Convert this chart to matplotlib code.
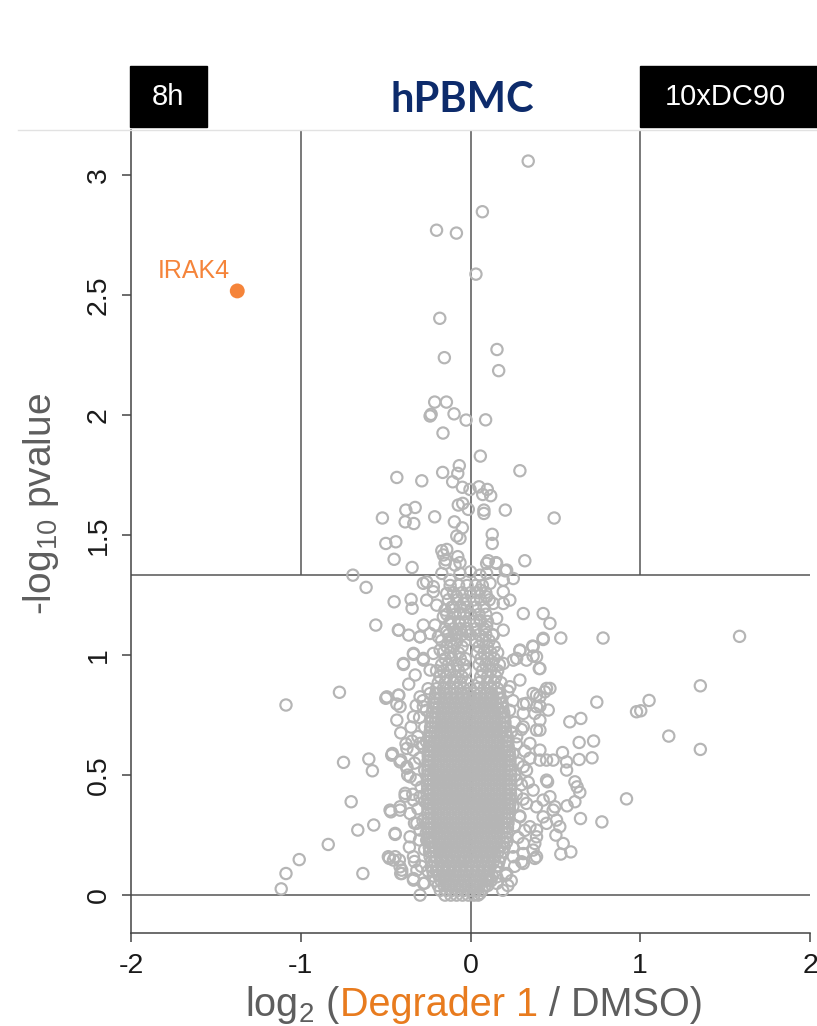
import matplotlib
matplotlib.use("Agg")
import matplotlib.pyplot as plt
from matplotlib.patches import Rectangle
from matplotlib.lines import Line2D

plt.rcParams['font.family'] = ['Liberation Sans', 'DejaVu Sans']
plt.rcParams['mathtext.fontset'] = 'custom'
plt.rcParams['mathtext.rm'] = 'Liberation Sans'
plt.rcParams['mathtext.it'] = 'Liberation Sans:italic'

GREY_PT = "#b5b5b5"
ORANGE = "#f5843a"
LABEL_GREY = "#5e5e5e"
LINE = "#555555"

# highlighted protein
hit_name = "IRAK4"
hit_x = -1.374
hit_y = 2.517

# points above the significance line
upper_x = [0.34, 0.07, -0.20, -0.083, 0.032, -0.181, 0.156, -0.154, 0.166, -0.211, -0.142, -0.238,
           -0.232, -0.097, -0.026, 0.089, -0.162, 0.058, -0.066, 0.291, -0.434, -0.287, -0.164, -0.075,
           -0.105, -0.048, -0.003, 0.05, 0.099, 0.072, 0.119, 0.205, 0.493, -0.519, -0.381, -0.326,
           -0.385, -0.334, -0.211, -0.095, -0.048, -0.072, -0.046, -0.013, 0.079, 0.079, 0.128, 0.128,
           -0.081, -0.062, -0.499, -0.44, -0.45, -0.344, -0.169, -0.14, -0.16, -0.075, -0.062, -0.146,
           0.105, 0.15, 0.32, 0.205, -0.693, 0.0]
upper_y = [3.058, 2.847, 2.77, 2.758, 2.587, 2.403, 2.273, 2.239, 2.185, 2.054, 2.054, 1.996,
           2.003, 2.005, 1.979, 1.98, 1.925, 1.829, 1.789, 1.768, 1.74, 1.726, 1.761, 1.757,
           1.722, 1.699, 1.69, 1.701, 1.69, 1.669, 1.664, 1.604, 1.571, 1.571, 1.604, 1.615,
           1.555, 1.548, 1.576, 1.555, 1.530, 1.625, 1.632, 1.607, 1.604, 1.59, 1.503, 1.465,
           1.496, 1.486, 1.465, 1.472, 1.399, 1.365, 1.435, 1.44, 1.417, 1.41, 1.385, 1.397,
           1.393, 1.385, 1.393, 1.351, 1.333, 1.347]

# points around the top of the cloud
mid_x = [-0.258, -0.219, -0.278, -0.169, -0.121, -0.062, -0.091, -0.15, 0.056, 0.095, 0.115, 0.193,
         0.252, 0.213, 0.154, 0.095, 0.056, 0.095, 0.134, 0.193, 0.232, 0.193, -0.14, -0.081,
         -0.042, -0.101, -0.15, -0.062, -0.219, -0.258, -0.199, 0.056, 0.095, 0.154, 0.193, 0.134,
         -0.16, -0.121, -0.062, -0.081, -0.14, -0.022, -0.425, -0.297, -0.189, -0.209, 0.428, 0.369,
         0.291, 0.252, 0.193, 0.33, 0.389, -0.336, -0.395, -0.278, -0.219, -0.179, -0.238, 0.409,
         0.291, 0.232, 0.369, 0.448, 0.409, 0.33, -0.493, -0.425, -0.415, -0.336, -0.278, -0.297,
         -0.238, 0.311, 0.389, 0.409, 0.389, 0.311]
mid_y = [1.305, 1.285, 1.299, 1.340, 1.3125, 1.340, 1.375, 1.382, 1.333, 1.340, 1.299, 1.3125,
         1.319, 1.354, 1.382, 1.382, 1.271, 1.243, 1.215, 1.264, 1.229, 1.215, 1.257, 1.243,
         1.215, 1.201, 1.1875, 1.174, 1.264, 1.229, 1.208, 1.146, 1.118, 1.153, 1.104, 1.083,
         1.16, 1.132, 1.132, 1.09, 1.097, 1.097, 1.104, 1.076, 1.076, 1.125, 1.07, 1.035,
         1.021, 0.979, 0.965, 0.979, 0.993, 1.007, 0.965, 0.979, 1.007, 1.021, 0.9375, 0.944,
         0.896, 0.868, 0.84, 0.861, 0.826, 0.799, 0.826, 0.833, 0.785, 0.743, 0.785, 0.826,
         0.84, 0.757, 0.785, 0.729, 0.6875, 0.701]

# scattered points on the left of the cloud
left_x = [-0.615, -0.45, -0.35, -0.344, -0.558, -0.422, -0.364, -0.278, -0.297, -0.238, -0.395, -0.336,
          -0.278, -0.326, -0.364, -0.772, -1.087, -0.499, -0.422, -0.434, -0.434, -0.411, -0.375, -0.344,
          -0.46, -0.411, -0.375, -0.748, -0.599, -0.578, -0.703, -0.469, -0.415, -0.385, -0.57, -0.664,
          -0.444, -0.838, -1.009, -1.087, -1.115, -0.634, -0.478, -0.444, -0.419, -0.405, -0.411, -0.336,
          -0.297, -0.464, -0.415, -0.375, -0.336, -0.297, -0.356, -0.385, -0.336, -0.297, -0.474, -0.415,
          -0.356, -0.316, -0.444, -0.356, -0.297, -0.258, -0.484, -0.454, -0.415, -0.405, -0.336, -0.316,
          -0.336, -0.278]
left_y = [1.282, 1.222, 1.232, 1.195, 1.125, 1.104, 1.083, 1.125, 1.076, 1.09, 0.961, 1.003,
          0.986, 0.917, 0.879, 0.845, 0.792, 0.82, 0.833, 0.796, 0.729, 0.676, 0.611, 0.642,
          0.59, 0.5625, 0.529, 0.553, 0.567, 0.518, 0.389, 0.347, 0.368, 0.4125, 0.292, 0.271,
          0.253, 0.211, 0.148, 0.09, 0.026, 0.09, 0.153, 0.16, 0.146, 0.104, 0.09, 0.069,
          0.0, 0.583, 0.555, 0.535, 0.604, 0.632, 0.493, 0.424, 0.396, 0.41, 0.354, 0.354,
          0.34, 0.299, 0.257, 0.243, 0.271, 0.229, 0.16, 0.146, 0.118, 0.09, 0.16, 0.104,
          0.0625, 0.049]

# scattered points on the right of the cloud
right_x = [0.311, 0.428, 0.468, 0.532, 0.781, 1.585, 0.428, 0.366, 0.369, 0.291, 0.272, 0.405,
           1.354, 0.468, 0.438, 0.389, 0.744, 1.052, 0.978, 1.003, 0.311, 0.379, 0.458, 0.409,
           0.585, 0.65, 0.409, 0.64, 0.725, 1.168, 1.354, 0.542, 0.64, 0.716, 0.566, 0.566,
           0.487, 0.409, 0.454, 0.615, 0.628, 0.644, 0.615, 0.569, 0.919, 0.648, 0.774, 0.497,
           0.507, 0.526, 0.503, 0.546, 0.532, 0.591, 0.428, 0.428, 0.389, 0.379, 0.379, 0.301,
           0.311, 0.209, 0.115, 0.154, 0.272, 0.35, 0.409, 0.448, 0.311, 0.272, 0.369, 0.448,
           0.33, 0.389, 0.468, 0.291, 0.35, 0.448, 0.487, 0.389, 0.311, 0.369, 0.252, 0.311,
           0.389, 0.213, 0.154, 0.056]
right_y = [1.173, 1.173, 1.132, 1.071, 1.071, 1.078, 1.065, 1.0375, 0.996, 1.018, 0.986, 0.944,
           0.872, 0.861, 0.847, 0.833, 0.804, 0.811, 0.764, 0.768, 0.796, 0.757, 0.771, 0.7875,
           0.722, 0.736, 0.6875, 0.636, 0.642, 0.6625, 0.607, 0.594, 0.565, 0.572, 0.555, 0.521,
           0.5625, 0.5625, 0.472, 0.472, 0.451, 0.428, 0.389, 0.372, 0.401, 0.319, 0.305, 0.368,
           0.3125, 0.285, 0.25, 0.215, 0.171, 0.18, 0.396, 0.326, 0.271, 0.215, 0.153, 0.139,
           0.173, 0.083, 0.069, 0.076, 0.66, 0.632, 0.604, 0.5625, 0.535, 0.479, 0.4375, 0.479,
           0.382, 0.368, 0.41, 0.326, 0.285, 0.299, 0.354, 0.243, 0.215, 0.1875, 0.16, 0.132,
           0.16, 0.09, 0.049, 0.007]

# rings hugging the edges of the dense core
halo_x = [-0.27, -0.29, -0.27, -0.3, -0.28, -0.31, -0.27, -0.29, -0.32, -0.27, -0.3, -0.28,
          -0.31, -0.27, -0.3, -0.26, -0.28, -0.25, -0.33, -0.34, -0.33, -0.35, -0.32, -0.26,
          -0.25, -0.33, -0.36, -0.37, -0.38, -0.26,
          0.24, 0.26, 0.25, 0.28, 0.26, 0.29, 0.25, 0.27, 0.3, 0.26, 0.28, 0.25,
          0.27, 0.24, 0.26, 0.23, 0.25, 0.22, 0.32, 0.31, 0.33, 0.32, 0.3, 0.22,
          0.19, 0.34, 0.35]
halo_y = [0.05, 0.12, 0.19, 0.23, 0.31, 0.36, 0.39, 0.45, 0.48, 0.52, 0.57, 0.62,
          0.66, 0.7, 0.74, 0.77, 0.81, 0.86, 0.3, 0.42, 0.55, 0.7, 0.79, 0.26,
          0.1, 0.14, 0.2, 0.5, 0.63, 0.64,
          0.06, 0.12, 0.2, 0.24, 0.29, 0.33, 0.37, 0.42, 0.46, 0.5, 0.55, 0.59,
          0.63, 0.68, 0.72, 0.77, 0.81, 0.85, 0.27, 0.4, 0.52, 0.6, 0.69, 0.04,
          0.02, 0.47, 0.57]

# dense core of the cloud, one row of x values per level
core_levels = [0.00, 0.02, 0.04, 0.06, 0.08, 0.10, 0.12, 0.14, 0.16, 0.18, 0.20, 0.22, 0.24, 0.26,
               0.28, 0.30, 0.32, 0.34, 0.36, 0.38, 0.40, 0.42, 0.44, 0.46, 0.48, 0.50, 0.52, 0.54,
               0.56, 0.58, 0.60, 0.62, 0.64, 0.66, 0.68, 0.70, 0.72, 0.74, 0.76, 0.78, 0.80, 0.82, 0.84]
core_rows = [
    [-0.15, -0.116, -0.082, -0.047, -0.013, 0.02, 0.045],
    [-0.178, -0.141, -0.108, -0.072, -0.036, -0.002, 0.033, 0.068],
    [-0.19, -0.157, -0.121, -0.088, -0.052, -0.018, 0.017, 0.052, 0.086, 0.101],
    [-0.208, -0.174, -0.139, -0.103, -0.069, -0.034, 0.0, 0.035, 0.07, 0.104, 0.121],
    [-0.219, -0.186, -0.15, -0.117, -0.082, -0.046, -0.012, 0.023, 0.058, 0.092, 0.128],
    [-0.222, -0.203, -0.168, -0.133, -0.099, -0.064, -0.028, 0.006, 0.041, 0.075, 0.11, 0.146],
    [-0.231, -0.196, -0.161, -0.127, -0.091, -0.056, -0.022, 0.013, 0.048, 0.083, 0.118, 0.153, 0.162],
    [-0.229, -0.213, -0.178, -0.143, -0.109, -0.073, -0.039, -0.004, 0.031, 0.066, 0.1, 0.135, 0.168],
    [-0.238, -0.203, -0.169, -0.134, -0.099, -0.064, -0.03, 0.005, 0.04, 0.075, 0.11, 0.145, 0.178],
    [-0.241, -0.221, -0.186, -0.151, -0.117, -0.082, -0.047, -0.012, 0.022, 0.057, 0.092, 0.127, 0.162, 0.189],
    [-0.243, -0.208, -0.173, -0.138, -0.104, -0.069, -0.034, 0.001, 0.036, 0.071, 0.105, 0.14, 0.175, 0.199],
    [-0.247, -0.226, -0.19, -0.156, -0.121, -0.086, -0.051, -0.016, 0.019, 0.054, 0.088, 0.123, 0.158, 0.193, 0.212],
    [-0.249, -0.213, -0.178, -0.143, -0.108, -0.073, -0.038, -0.003, 0.032, 0.067, 0.101, 0.136, 0.171, 0.206],
    [-0.248, -0.231, -0.196, -0.161, -0.126, -0.091, -0.056, -0.021, 0.014, 0.049, 0.084, 0.119, 0.153, 0.188, 0.214],
    [-0.251, -0.216, -0.181, -0.146, -0.111, -0.076, -0.041, -0.006, 0.029, 0.063, 0.098, 0.133, 0.168, 0.203, 0.218],
    [-0.252, -0.234, -0.199, -0.164, -0.129, -0.094, -0.059, -0.024, 0.011, 0.046, 0.081, 0.116, 0.151, 0.186, 0.221],
    [-0.25, -0.217, -0.182, -0.147, -0.112, -0.077, -0.042, -0.007, 0.028, 0.063, 0.098, 0.133, 0.168, 0.203, 0.225],
    [-0.253, -0.235, -0.2, -0.165, -0.13, -0.095, -0.06, -0.025, 0.01, 0.045, 0.08, 0.115, 0.15, 0.185, 0.22, 0.228],
    [-0.251, -0.218, -0.183, -0.148, -0.113, -0.078, -0.043, -0.008, 0.027, 0.062, 0.097, 0.132, 0.167, 0.202, 0.229],
    [-0.254, -0.236, -0.201, -0.166, -0.131, -0.096, -0.061, -0.026, 0.009, 0.044, 0.079, 0.114, 0.149, 0.184, 0.219, 0.232],
    [-0.252, -0.219, -0.184, -0.149, -0.114, -0.079, -0.044, -0.009, 0.026, 0.061, 0.096, 0.131, 0.166, 0.201, 0.234],
    [-0.255, -0.237, -0.202, -0.167, -0.132, -0.097, -0.062, -0.027, 0.008, 0.043, 0.078, 0.113, 0.148, 0.183, 0.218, 0.236],
    [-0.253, -0.22, -0.185, -0.15, -0.115, -0.08, -0.045, -0.01, 0.025, 0.06, 0.095, 0.13, 0.165, 0.2, 0.235],
    [-0.254, -0.238, -0.203, -0.168, -0.133, -0.098, -0.063, -0.028, 0.007, 0.042, 0.077, 0.112, 0.147, 0.182, 0.217, 0.237],
    [-0.252, -0.221, -0.186, -0.151, -0.116, -0.081, -0.046, -0.011, 0.024, 0.059, 0.094, 0.129, 0.164, 0.199, 0.234],
    [-0.253, -0.237, -0.202, -0.167, -0.132, -0.097, -0.062, -0.027, 0.008, 0.043, 0.078, 0.113, 0.148, 0.183, 0.218, 0.238],
    [-0.251, -0.219, -0.184, -0.149, -0.114, -0.079, -0.044, -0.009, 0.026, 0.061, 0.096, 0.131, 0.166, 0.201, 0.236],
    [-0.252, -0.236, -0.201, -0.166, -0.131, -0.096, -0.061, -0.026, 0.009, 0.044, 0.079, 0.114, 0.149, 0.184, 0.219, 0.235],
    [-0.25, -0.218, -0.183, -0.148, -0.113, -0.078, -0.043, -0.008, 0.027, 0.062, 0.097, 0.132, 0.167, 0.202, 0.233],
    [-0.249, -0.235, -0.2, -0.165, -0.13, -0.095, -0.06, -0.025, 0.01, 0.045, 0.08, 0.115, 0.15, 0.185, 0.22, 0.231],
    [-0.247, -0.216, -0.181, -0.146, -0.111, -0.076, -0.041, -0.006, 0.029, 0.064, 0.099, 0.134, 0.169, 0.204, 0.228],
    [-0.244, -0.233, -0.198, -0.163, -0.128, -0.093, -0.058, -0.023, 0.012, 0.047, 0.082, 0.117, 0.152, 0.187, 0.222],
    [-0.242, -0.214, -0.179, -0.144, -0.109, -0.074, -0.039, -0.004, 0.031, 0.066, 0.101, 0.136, 0.171, 0.206, 0.221],
    [-0.24, -0.231, -0.196, -0.161, -0.126, -0.091, -0.056, -0.021, 0.014, 0.049, 0.084, 0.119, 0.154, 0.189, 0.217],
    [-0.238, -0.212, -0.177, -0.142, -0.107, -0.072, -0.037, -0.002, 0.033, 0.068, 0.103, 0.138, 0.173, 0.208],
    [-0.235, -0.228, -0.193, -0.158, -0.123, -0.088, -0.053, -0.018, 0.017, 0.052, 0.087, 0.122, 0.157, 0.192, 0.206],
    [-0.232, -0.209, -0.174, -0.139, -0.104, -0.069, -0.034, 0.001, 0.036, 0.071, 0.106, 0.141, 0.176, 0.203],
    [-0.229, -0.192, -0.157, -0.122, -0.087, -0.052, -0.017, 0.018, 0.053, 0.088, 0.123, 0.158, 0.193, 0.2],
    [-0.226, -0.205, -0.17, -0.135, -0.1, -0.065, -0.03, 0.005, 0.04, 0.075, 0.11, 0.145, 0.18, 0.196],
    [-0.221, -0.188, -0.153, -0.118, -0.083, -0.048, -0.013, 0.022, 0.057, 0.092, 0.127, 0.162, 0.19],
    [-0.216, -0.2, -0.165, -0.13, -0.095, -0.06, -0.025, 0.01, 0.045, 0.08, 0.115, 0.15, 0.183],
    [-0.21, -0.182, -0.147, -0.112, -0.077, -0.042, -0.007, 0.028, 0.063, 0.098, 0.133, 0.168, 0.177],
    [-0.204, -0.19, -0.155, -0.12, -0.085, -0.05, -0.015, 0.02, 0.055, 0.09, 0.125, 0.16, 0.171],
]

# looser rows above the core
top_levels = [0.86, 0.885, 0.91, 0.935, 0.96, 0.985, 1.01, 1.035, 1.06, 1.085, 1.11, 1.14, 1.17,
              1.2, 1.23, 1.26, 1.29]
top_rows = [
    [-0.2, -0.16, -0.12, -0.08, -0.04, 0.0, 0.04, 0.08, 0.12, 0.16],
    [-0.19, -0.15, -0.1, -0.06, -0.02, 0.05, 0.1, 0.14, 0.18],
    [-0.18, -0.14, -0.09, -0.05, 0.06, 0.1, 0.15],
    [-0.2, -0.16, -0.12, -0.07, -0.03, 0.07, 0.12, 0.16],
    [-0.17, -0.13, -0.08, -0.04, 0.05, 0.09, 0.13, 0.17],
    [-0.15, -0.11, -0.06, -0.03, 0.06, 0.1, 0.14],
    [-0.16, -0.12, -0.07, 0.04, 0.08, 0.12, 0.16],
    [-0.14, -0.1, -0.05, 0.05, 0.1, 0.14],
    [-0.17, -0.12, -0.08, -0.03, 0.03, 0.07, 0.11],
    [-0.13, -0.09, -0.05, 0.0, 0.05, 0.09, 0.13],
    [-0.15, -0.1, -0.06, -0.02, 0.03, 0.08],
    [-0.12, -0.07, -0.03, 0.02, 0.06, 0.1],
    [-0.14, -0.09, -0.04, 0.0, 0.05, 0.09],
    [-0.11, -0.06, -0.02, 0.03, 0.08],
    [-0.13, -0.08, -0.03, 0.02, 0.06, 0.11],
    [-0.1, -0.05, 0.0, 0.04, 0.09],
    [-0.12, -0.07, -0.02, 0.03, 0.07],
]

x_ticks = [-2, -1, 0, 1, 2]
x_ticklabels = ["-2", "-1", "0", "1", "2"]
y_ticks = [0, 0.5, 1, 1.5, 2, 2.5, 3]
y_ticklabels = ["0", "0.5", "1", "1.5", "2", "2.5", "3"]

p_cut = 1.333   # -log10(0.05)
fc_cut = 1.0

all_x = upper_x + mid_x + left_x + right_x + halo_x
all_y = upper_y + mid_y + left_y + right_y + halo_y
for lev, row in zip(core_levels + top_levels, core_rows + top_rows):
    all_x += row
    all_y += [lev] * len(row)

fig = plt.figure(figsize=(8.17, 10.26), dpi=100)
ax = fig.add_axes([131 / 817, 0.0906, 679 / 817, 0.7827])
ax.set_xlim(-2, 2)
ax.set_ylim(-0.158, 3.1875)

# reference lines
ax.axhline(0, color=LINE, lw=1.1, zorder=1)
ax.axhline(p_cut, color=LINE, lw=1.1, zorder=1)
ax.axvline(0, color=LINE, lw=1.1, zorder=1)
ax.vlines([-fc_cut, fc_cut], p_cut, 3.1875, color=LINE, lw=1.1, zorder=1)

ax.scatter(all_x, all_y, s=66, facecolors="none", edgecolors=GREY_PT, linewidths=1.55, zorder=3)
ax.scatter([hit_x], [hit_y], s=115, color=ORANGE, edgecolors="none", zorder=4)
ax.text(-1.415, 2.571, hit_name, color=ORANGE, fontsize=18, ha="right", va="baseline")

for side in ["top", "right"]:
    ax.spines[side].set_visible(False)
for side in ["left", "bottom"]:
    ax.spines[side].set_color("#444444")
    ax.spines[side].set_linewidth(1.1)

ax.set_xticks(x_ticks)
ax.set_xticklabels(x_ticklabels)
ax.set_yticks(y_ticks)
ax.set_yticklabels(y_ticklabels, rotation=90, va="center")
ax.tick_params(axis="both", length=6.5, width=1.1, color="#444444", labelsize=20.5,
               labelcolor="#1a1a1a")
ax.tick_params(axis="x", pad=8)
ax.tick_params(axis="y", pad=7.5)

# y label
fig.text(41 / 817, 0.509, "-log$_{10}$ pvalue", rotation=90, ha="center", va="center",
         fontsize=28, color=LABEL_GREY)

# x label in three colours (baseline kept just inside the bottom edge)
fig.canvas.draw()
rend = fig.canvas.get_renderer()
parts = [("log$_2$ (", LABEL_GREY), ("Degrader 1", "#e87b1e"), (" / DMSO)", LABEL_GREY)]
texts = [fig.text(0, 0, s, fontsize=28.5, color=c, ha="left", va="baseline") for s, c in parts]
widths = [t.get_window_extent(rend).width for t in texts]
x0 = 474 - sum(widths) / 2
for t, w in zip(texts, widths):
    t.set_position((x0 / 817, 1 - 1016 / 1026))
    x0 += w

# header
fig.add_artist(Line2D([18 / 817, 1.0], [1 - 130 / 1026] * 2, color="#e2e2e2", lw=1))
fig.patches.append(Rectangle((130 / 817, 1 - 127 / 1026), 77 / 817, 61 / 1026,
                             transform=fig.transFigure, color="black"))
fig.patches.append(Rectangle((640 / 817, 1 - 127 / 1026), 177 / 817, 61 / 1026,
                             transform=fig.transFigure, color="black"))
fig.text(168 / 817, 1 - 97 / 1026, "8h", color="white", fontsize=21, ha="center", va="center")
fig.text(725 / 817, 1 - 97 / 1026, "10xDC90", color="white", fontsize=21, ha="center", va="center")
fig.text(462 / 817, 1 - 100 / 1026, "hPBMC", color="#0d2b6b", fontsize=30, fontweight="bold",
         family="Lato", ha="center", va="center")

fig.savefig("out.png", dpi=100)
